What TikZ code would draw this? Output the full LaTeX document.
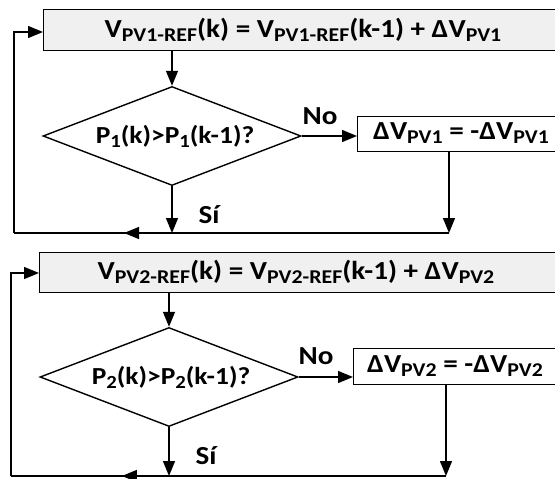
\documentclass[tikz,border=0pt]{standalone}
\usepackage{fontspec}
\setmainfont{Carlito}[FakeStretch=1.12]
\usetikzlibrary{shapes.geometric,arrows.meta,decorations.markings}
\newcommand\sbx[1]{\raisebox{-0.16em}{\fontsize{19.5}{20}\selectfont #1}}
\newcommand\sbd[1]{\raisebox{-0.16em}{\fontsize{18.5}{19}\selectfont #1}}
\begin{document}
\begin{tikzpicture}[x=1pt,y=-1pt,
  ln/.style={line width=1.4pt},
  arr/.style={ln,-{Triangle[length=15pt,width=12pt]}},
  midarr/.style={ln,decoration={markings,mark=at position #1 with {\arrow{Triangle[length=15pt,width=12pt]}}},postaction={decorate}},
  gbox/.style={draw,ln,fill=black!6,anchor=north west,minimum height=41pt,minimum width=560pt,inner sep=0pt},
  wbox/.style={draw,ln,fill=white,anchor=north west,minimum height=35pt,minimum width=560pt,inner sep=0pt},
  dia/.style={draw,ln,diamond,minimum width=258pt,minimum height=99pt,inner sep=0pt},
  txt/.style={font=\fontsize{26}{30}\selectfont\bfseries,inner sep=0pt},
  dtxt/.style={font=\fontsize{24.5}{28}\selectfont\bfseries,inner sep=0pt},
  lbl/.style={font=\fontsize{26}{30}\selectfont\bfseries,inner sep=0pt}]
\useasboundingbox (0,0) rectangle (555,479);
\clip (0,0) rectangle (555,479);
% ---------- section 1 ----------
\node[gbox] (b1) at (43,9) {};
\node[txt] (t1) at (303,30) {V\sbx{PV1-REF}(k) = V\sbx{PV1-REF}(k-1) + ΔV\sbx{PV1}};
\node[dia] (d1) at (172,136) {};
\node[dtxt] (p1) at (175,136) {P\sbd{1}(k)>P\sbd{1}(k-1)?};
\node[wbox] (c1) at (357,116) {};
\node[txt] (e1) at (461,133) {ΔV\sbx{PV1} = -ΔV\sbx{PV1}};
\node[lbl] (n1) at (320,116) {No};
\node[lbl] (s1) at (209,215) {Sí};
\coordinate (j1) at (449,233);
\coordinate (l1) at (14,233);
\coordinate (u1) at (14,32);
\draw[arr] (d1.north |- b1.south) -- (d1.north);
\draw[arr] (d1.east) -- (c1.west |- d1.east);
\draw[arr] (c1.south -| j1) -- (j1);
\draw[arr] (d1.south) -- (d1.south |- j1);
\draw[midarr=0.747] (j1) -- (l1);
\draw[arr] (l1) -- (u1) -- (b1.west |- u1);
% ---------- section 2 ----------
\node[gbox,minimum height=40pt] (b2) at (39,252) {};
\node[txt] (t2) at (296,272) {V\sbx{PV2-REF}(k) = V\sbx{PV2-REF}(k-1) + ΔV\sbx{PV2}};
\node[dia] (d2) at (169,377) {};
\node[dtxt] (p2) at (171,377) {P\sbd{2}(k)>P\sbd{2}(k-1)?};
\node[wbox,minimum height=36pt] (c2) at (353,348) {};
\node[txt] (e2) at (455,366) {ΔV\sbx{PV2} = -ΔV\sbx{PV2}};
\node[lbl] (n2) at (316,356) {No};
\node[lbl] (s2) at (206,456) {Sí};
\coordinate (j2) at (446,476);
\coordinate (l2) at (11,476);
\coordinate (u2) at (11,273);
\draw[arr] (d2.north |- b2.south) -- (d2.north);
\draw[arr] (d2.east) -- (c2.west |- d2.east);
\draw[arr] (c2.south -| j2) -- (j2);
\draw[arr] (d2.south) -- (d2.south |- j2);
\draw[midarr=0.745] (j2) -- (l2);
\draw[arr] (l2) -- (u2) -- (b2.west |- u2);
\end{tikzpicture}
\end{document}
